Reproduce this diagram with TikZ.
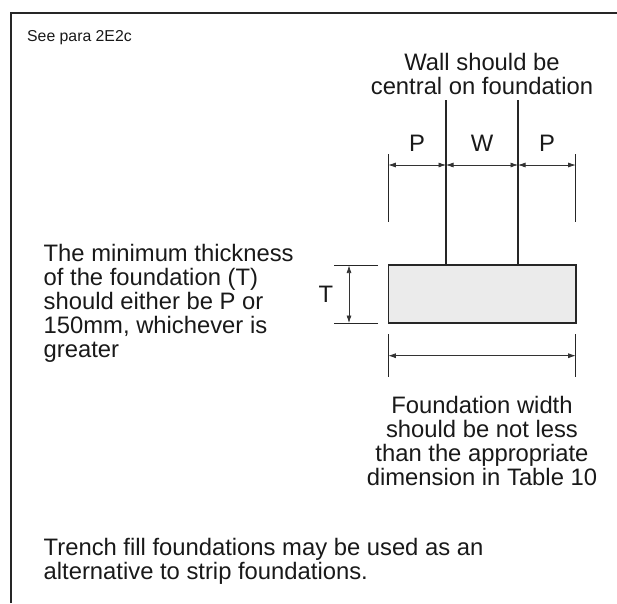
\documentclass[tikz,border=0pt]{standalone}
\usepackage{fontspec}
\setmainfont{Liberation Sans}
\usetikzlibrary{arrows.meta}
\tikzset{
  x=1pt,y=-1pt,
  frameline/.style={line width=2pt,color=black!85},
  wallline/.style={line width=1.9pt,color=black!85},
  ext/.style={line width=0.65pt,color=black!85},
  dim/.style={line width=0.7pt,color=black!80,{Latex[length=7.5pt,width=5pt]}-{Latex[length=7.5pt,width=5pt]}},
  txt/.style={inner sep=0pt,font=\fontsize{23.8}{24}\selectfont,text=black!90},
  found/.style={draw=black!85,line width=1.8pt,fill=black!8,inner sep=0pt,minimum width=187.5pt,minimum height=57.7pt}
}
\begin{document}
\begin{tikzpicture}
\useasboundingbox (0,0) rectangle (617,603);
\coordinate (fa) at (10.5,603);
\coordinate (fb) at (10.5,13);
\coordinate (fc) at (617,13);
\draw[frameline] (fa) -- (fb) -- (fc);
\node[inner sep=0pt,anchor=base west,font=\fontsize{15.8}{16}\selectfont,text=black!90] (see) at (27,41) {See para 2E2c};
\node[txt,align=center,anchor=north] (walltxt) at (482,53.2) {Wall should be\\central on foundation};
\node[found] (fnd) at (482.2,294) {};
\coordinate (wl) at (446,100);
\coordinate (wr) at (518,100);
\draw[wallline] (wl) -- (wl |- fnd.north);
\draw[wallline] (wr) -- (wr |- fnd.north);
\coordinate (xl) at (388.3,154);
\coordinate (xr) at (575.7,154);
\draw[ext] (xl) -- (388.3,222);
\draw[ext] (xr) -- (575.7,222);
\coordinate (dl) at (388.3,165);
\coordinate (dw) at (446,165);
\coordinate (dx) at (518,165);
\coordinate (dr) at (575.7,165);
\draw[dim] (dl) -- (dw);
\draw[dim] (dw) -- (dx);
\draw[dim] (dx) -- (dr);
\node[txt,anchor=base] (pl) at (417,151) {P};
\node[txt,anchor=base] (w) at (482,151) {W};
\node[txt,anchor=base] (pr) at (547,151) {P};
\coordinate (tt) at (378,265.5);
\coordinate (tb) at (378,323);
\draw[ext] (tt) -- (334,265.5);
\draw[ext] (tb) -- (334,323);
\coordinate (td1) at (349,265.5);
\coordinate (td2) at (349,323);
\draw[dim] (td1) -- (td2);
\node[txt,anchor=base] (t) at (326,302) {T};
\draw[ext] (388.3,334) -- (388.3,377);
\draw[ext] (575.7,334) -- (575.7,377);
\coordinate (bl) at (388.3,355.7);
\coordinate (br) at (575.7,355.7);
\draw[dim] (bl) -- (br);
\node[txt,align=center,anchor=north] (ftxt) at (482,396) {Foundation width\\should be not less\\than the appropriate\\dimension in Table 10};
\node[txt,align=left,anchor=north west] (mintxt) at (43.5,243.7) {The minimum thickness\\of the foundation (T)\\should either be P or\\150mm, whichever is\\greater};
\node[txt,align=left,anchor=north west] (trench) at (43.5,537.7) {Trench fill foundations may be used as an\\alternative to strip foundations.};
\end{tikzpicture}
\end{document}
